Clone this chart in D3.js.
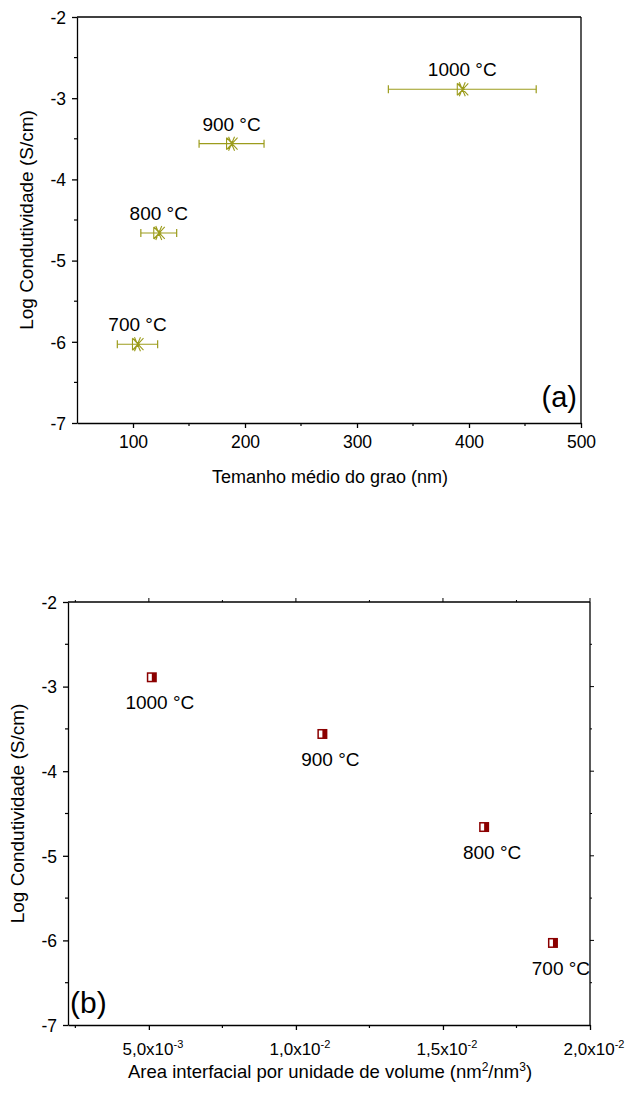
<!DOCTYPE html>
<html>
<head>
<meta charset="utf-8">
<script src="https://cdn.jsdelivr.net/npm/d3@7"></script>
<style>
  body { margin: 0; background: #fff; }
  svg text { font-family: "Liberation Sans", Arial, sans-serif; fill: #000; }
  .axis path, .axis line { stroke: #000; stroke-width: 1.3; }
</style>
</head>
<body>
<svg id="chart" width="627" height="1099"></svg>
<script>
// panel (a) data
var temps = ["700 °C", "800 °C", "900 °C", "1000 °C"];
var grainSize = [104, 123, 188, 394];
var grainErr = [18, 16, 29, 66];
var logCond = [-6.03, -4.66, -3.56, -2.89];

// panel (b) data
var areaVol = [0.01874, 0.0164, 0.0109, 0.0051];

var yTicks = [-7, -6, -5, -4, -3, -2];
var xTicksA = [100, 200, 300, 400, 500];
var xTicksB = [0.005, 0.01, 0.015, 0.02];
var xLabelsB = [["5,0x10", "-3"], ["1,0x10", "-2"], ["1,5x10", "-2"], ["2,0x10", "-2"]];

var svg = d3.select("#chart");
var olive = "#9c9c1c";
var darkRed = "#8b0000";

function drawFrame(g, x, y, o) {
  var xr = x.range(), yr = y.range();
  // left axis
  var ya = g.append("g").attr("class", "axis")
    .attr("transform", "translate(" + xr[0] + ",0)")
    .call(d3.axisLeft(y).tickValues(yTicks).tickSize(5).tickSizeOuter(0).tickPadding(6)
      .tickFormat(d => String(d)));
  ya.selectAll("text").style("font-size", "17.5px").attr("dy", "0.36em");
  // minor y
  g.append("g").selectAll("line").data(d3.range(-6.5, -2, 1)).join("line")
    .attr("x1", xr[0] - 3).attr("x2", xr[0]).attr("y1", d => y(d)).attr("y2", d => y(d))
    .attr("stroke", "#000").attr("stroke-width", 1.2);
  // bottom axis
  var xa = g.append("g").attr("class", "axis")
    .attr("transform", "translate(0," + yr[0] + ")")
    .call(d3.axisBottom(x).tickValues(o.xTicks).tickSize(5).tickSizeOuter(0).tickPadding(8)
      .tickFormat(o.xFormat || d3.format("d")));
  xa.selectAll("text").style("font-size", "17.5px");
  g.append("g").selectAll("line").data(o.xMinor).join("line")
    .attr("x1", d => x(d)).attr("x2", d => x(d)).attr("y1", yr[0]).attr("y2", yr[0] + 3)
    .attr("stroke", "#000").attr("stroke-width", 1.2);
  // top and right lines
  g.append("line").attr("x1", xr[0]).attr("x2", xr[1]).attr("y1", yr[1]).attr("y2", yr[1])
    .attr("stroke", "#000").attr("stroke-width", 1.3);
  g.append("line").attr("x1", xr[1]).attr("x2", xr[1]).attr("y1", yr[1]).attr("y2", yr[0])
    .attr("stroke", "#000").attr("stroke-width", 1.3);
  if (o.mirror) {
    g.append("g").selectAll("line").data(o.xTicks.concat(o.xMinor)).join("line")
      .attr("x1", d => x(d)).attr("x2", d => x(d)).attr("y1", yr[1]).attr("y2", d => yr[1] - (o.xTicks.indexOf(d) >= 0 ? 4 : 2))
      .attr("stroke", "#000").attr("stroke-width", 1);
    g.append("g").selectAll("line").data(d3.range(-6.5, -2, 0.5)).join("line")
      .attr("x1", xr[1]).attr("x2", d => xr[1] + (Number.isInteger(d) ? 4 : 2)).attr("y1", d => y(d)).attr("y2", d => y(d))
      .attr("stroke", "#000").attr("stroke-width", 1);
  }
  // y title
  g.append("text")
    .attr("transform", "translate(" + o.yTitleX + "," + ((yr[0] + yr[1]) / 2) + ") rotate(-90)")
    .attr("text-anchor", "middle").style("font-size", "19px")
    .text("Log Condutividade (S/cm)");
}

// ---------- panel (a) ----------
var xA = d3.scaleLinear().domain([50, 500]).range([77, 581]);
var yA = d3.scaleLinear().domain([-7, -2]).range([423, 17]);
var gA = svg.append("g");
drawFrame(gA, xA, yA, {
  xTicks: xTicksA, xMinor: [150, 250, 350, 450], yTitleX: 33
});
gA.append("text").attr("x", 330).attr("y", 483).attr("text-anchor", "middle")
  .style("font-size", "18px").text("Temanho médio do grao (nm)");
gA.append("text").attr("x", 577).attr("y", 407).attr("text-anchor", "end")
  .style("font-size", "29px").text("(a)");

var ptsA = gA.selectAll(".ptA").data(temps).join("g").attr("class", "ptA");
// error bars
ptsA.append("line")
  .attr("x1", (d, i) => xA(grainSize[i] - grainErr[i])).attr("x2", (d, i) => xA(grainSize[i] + grainErr[i]))
  .attr("y1", (d, i) => yA(logCond[i])).attr("y2", (d, i) => yA(logCond[i]))
  .attr("stroke", olive).attr("stroke-width", 1.2);
[-1, 1].forEach(function(s) {
  ptsA.append("line")
    .attr("x1", (d, i) => xA(grainSize[i] + s * grainErr[i])).attr("x2", (d, i) => xA(grainSize[i] + s * grainErr[i]))
    .attr("y1", (d, i) => yA(logCond[i]) - 4).attr("y2", (d, i) => yA(logCond[i]) + 4)
    .attr("stroke", olive).attr("stroke-width", 1.2);
});
// marker: crossed hourglass
ptsA.append("path")
  .attr("transform", (d, i) => "translate(" + xA(grainSize[i]) + "," + yA(logCond[i]) + ")")
  .attr("d", "M-5,-6 L6,6 M-5,6 L6,-6 M-5,-6 L-5,6 M-5,-6 L2,0 L-5,6 M-3,-7 L3,7 M-3,7 L3,-7")
  .attr("fill", "none").attr("stroke", olive).attr("stroke-width", 1.1);
ptsA.append("text")
  .attr("x", (d, i) => xA(grainSize[i])).attr("y", (d, i) => yA(logCond[i]) - 13)
  .attr("text-anchor", "middle").style("font-size", "19px").text(d => d);

// ---------- panel (b) ----------
var xB = d3.scaleLinear().domain([0.00225, 0.02]).range([68, 590]);
var yB = d3.scaleLinear().domain([-7, -2]).range([1025, 602]);
var gB = svg.append("g");
drawFrame(gB, xB, yB, {
  xTicks: xTicksB, xMinor: [0.0025, 0.0075, 0.0125, 0.0175], yTitleX: 24,
  xFormat: function() { return ""; }, mirror: true
});
var tl = gB.append("g").selectAll("text").data(xTicksB).join("text")
  .attr("x", d => xB(d) + 4).attr("y", yB.range()[0] + 30)
  .attr("text-anchor", "middle").style("font-size", "17px");
tl.append("tspan").text((d, i) => xLabelsB[i][0]);
tl.append("tspan").attr("dy", "-7").style("font-size", "11px").text((d, i) => xLabelsB[i][1]);

var xt = gB.append("text").attr("x", 330).attr("y", 1078).attr("text-anchor", "middle")
  .style("font-size", "18.5px");
xt.append("tspan").text("Area interfacial por unidade de volume (nm");
xt.append("tspan").attr("dy", "-7").style("font-size", "12px").text("2");
xt.append("tspan").attr("dy", "7").text("/nm");
xt.append("tspan").attr("dy", "-7").style("font-size", "12px").text("3");
xt.append("tspan").attr("dy", "7").text(")");

gB.append("text").attr("x", 70).attr("y", 1013).style("font-size", "30px").text("(b)");

var ptsB = gB.selectAll(".ptB").data(temps).join("g").attr("class", "ptB");
ptsB.append("rect")
  .attr("x", (d, i) => xB(areaVol[i]) - 5).attr("y", (d, i) => yB(logCond[i]) - 5)
  .attr("width", 10).attr("height", 10).attr("fill", darkRed);
ptsB.append("rect")
  .attr("x", (d, i) => xB(areaVol[i]) - 3.5).attr("y", (d, i) => yB(logCond[i]) - 3.5)
  .attr("width", 3.5).attr("height", 7).attr("fill", "#fff");
ptsB.append("text")
  .attr("x", (d, i) => xB(areaVol[i]) + 8).attr("y", (d, i) => yB(logCond[i]) + 32)
  .attr("text-anchor", "middle").style("font-size", "19px").text(d => d);
</script>
</body>
</html>
